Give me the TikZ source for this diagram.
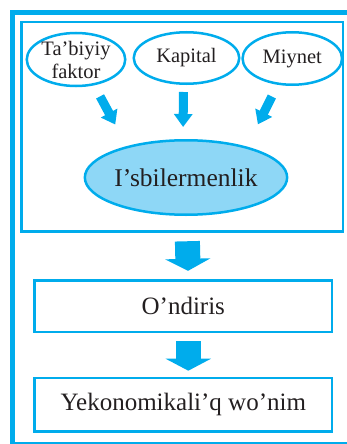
\documentclass[tikz,border=0pt]{standalone}
\usepackage{fontspec}
\setmainfont{Liberation Serif}
\usepackage{tikz}
\usetikzlibrary{shapes,arrows.meta}
\definecolor{cyanline}{RGB}{0,172,236}
\definecolor{cyanfill}{RGB}{142,215,246}
\definecolor{inktext}{RGB}{35,31,32}

\begin{document}
\begin{tikzpicture}[x=1pt,y=-1pt,
	oval/.style={ellipse,draw=cyanline,line width=2.5pt,inner sep=0pt,text=inktext,font=\fontsize{20.5}{23}\selectfont,align=center},
	boxnode/.style={rectangle,draw=cyanline,line width=2.5pt,inner sep=0pt,text=inktext,font=\fontsize{25}{28}\selectfont},
	smallarrow/.style={draw=cyanline,line width=9pt,-{Triangle[width=18pt,length=13pt]}},
	bigarrow/.style={draw=cyanline,line width=25pt,-{Triangle[width=45pt,length=12pt]}}]
				\useasboundingbox (0,0) rectangle (346,444);
				\draw[cyanline,line width=5pt] (12.5,444) -- (12.5,12.5) -- (350,12.5);
				\draw[cyanline,line width=2pt] (12.5,443) -- (350,443);
				\node[boxnode,minimum width=321.7pt,minimum height=209.5pt] (inner) at (182.2,126.75) {};
				\node[oval,minimum width=98.5pt,minimum height=53pt] (tabiyiy) at (76,59.5) {Ta’biyiy\\faktor};
				\node[oval,minimum width=105.5pt,minimum height=51.5pt] (kapital) at (186.5,58) {Kapital};
				\node[oval,minimum width=99.5pt,minimum height=52.5pt] (miynet) at (292.3,58.5) {Miynet};
				\node[oval,fill=cyanfill,minimum width=165.5pt,minimum height=74.5pt,font=\fontsize{25.5}{28}\selectfont] (isbil) at (186,177.5) {I’sbilermenlik};
				\node[boxnode,minimum width=297.5pt,minimum height=51.5pt] (ondiris) at (183.3,306.3) {O’ndiris};
				\node[boxnode,minimum width=297.5pt,minimum height=53.5pt] (natiyje) at (183.3,404.7) {Yekonomikali’q wo’nim};
				\draw[smallarrow,shorten <=12.5pt,shorten >=24.5pt] (tabiyiy.-55) -- (isbil.152);
				\draw[smallarrow,shorten <=7pt,shorten >=12pt] ([xshift=-3pt]kapital.south) -- ([xshift=-3pt]isbil.north);
				\draw[smallarrow,shorten <=13pt,shorten >=24.8pt] (miynet.-119) -- (isbil.27);
				\draw[bigarrow,shorten <=8.5pt,shorten >=8.5pt] ([xshift=5pt]inner.south) -- ([xshift=5pt]ondiris.north);
				\draw[bigarrow,shorten <=8pt,shorten >=6pt] ([xshift=5pt]ondiris.south) -- ([xshift=5pt]natiyje.north);
				\end{tikzpicture}
\end{document}
